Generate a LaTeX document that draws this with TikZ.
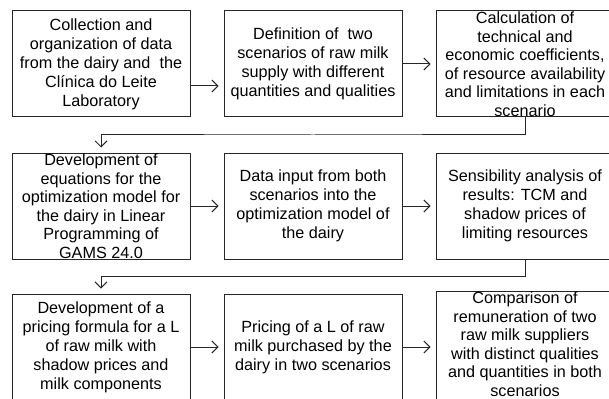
\documentclass[tikz,border=0pt]{standalone}
\usepackage{fontspec}
\setmainfont{Liberation Sans}
\usepackage{tikz}
\usetikzlibrary{calc,positioning,arrows.meta}

\begin{document}
\begin{tikzpicture}[
  every node/.style={font=\fontsize{16.2}{19}\selectfont},
  box/.style={rectangle, draw=black!85, line width=1pt, minimum width=178pt, minimum height=106pt, inner sep=0pt, align=center},
  tight/.style={font=\fontsize{16.2}{18.5}\selectfont},
  ar/.style={-{Straight Barb[length=6pt,width=12pt]}, line width=1pt, black!85, shorten >=5pt}
]
  \useasboundingbox (0,0) rectangle (609pt,-398pt);
  % first row
  \node[box] at (101pt,-64pt) (b1) {Collection and\\organization of data\\from the dairy and\ \ the\\Clínica do Leite\\Laboratory};
  \node[box, right=33pt of b1] (b2) {Definition of\ \ two\\scenarios of raw milk\\supply with different\\quantities and qualities};
  \node[box, tight, right=33pt of b2] (b3) {Calculation of\\technical and\\economic coefficients,\\of resource availability\\and limitations in each\\scenario};
  % second row
  \node[box, tight, below=35pt of b1] (b4) {Development of\\equations for the\\optimization model for\\the dairy in Linear\\Programming of\\GAMS 24.0};
  \node[box, right=33pt of b4] (b5) {Data input from both\\scenarios into the\\optimization model of\\the dairy};
  \node[box, right=33pt of b5] (b6) {Sensibility analysis of\\results: TCM and\\shadow prices of\\limiting resources};
  % third row
  \node[box, below=34pt of b4] (b7) {Development of a\\pricing formula for a L\\of raw milk with\\shadow prices and\\milk components};
  \node[box, right=33pt of b7] (b8) {Pricing of a L of raw\\milk purchased by the\\dairy in two scenarios};
  \node[box, tight, right=33pt of b8] (b9) {Comparison of\\remuneration of two\\raw milk suppliers\\with distinct qualities\\and quantities in both\\scenarios\rule[-6pt]{0pt}{0pt}};

  \draw[ar] ([yshift=-22pt]b1.east) -- ([yshift=-22pt]b2.west);
  \draw[ar] (b2) -- (b3);
  \draw[ar] (b3.south) |- ($(b3.south)!.5!(b4.north)$) -| (b4.north);
  \draw[ar] (b4) -- (b5);
  \draw[ar] (b5) -- (b6);
  \draw[ar] (b6.south) |- ($(b6.south)!.5!(b7.north)$) -| (b7.north);
  \draw[ar] (b7) -- (b8);
  \draw[ar] (b8) -- (b9);
\end{tikzpicture}
\end{document}
